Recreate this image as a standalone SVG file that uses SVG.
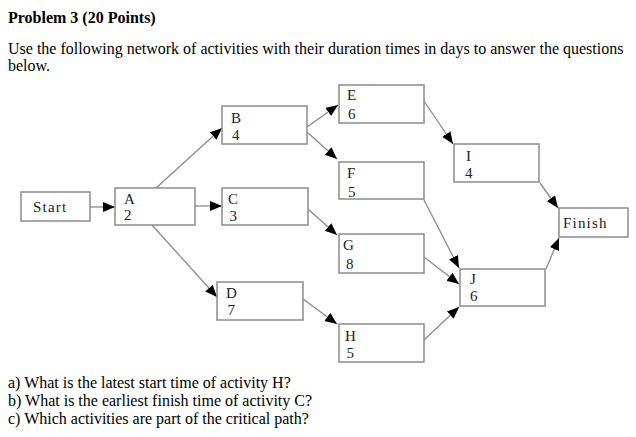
<svg xmlns="http://www.w3.org/2000/svg" width="636" height="437" viewBox="0 0 636 437">
<defs>
<marker id="ah" markerUnits="userSpaceOnUse" markerWidth="13" markerHeight="11" refX="12" refY="5" orient="auto">
<path d="M0,0 L12,5 L0,10 z" fill="#000"/>
</marker>
<style>
.t{font-family:"Liberation Serif","Times New Roman",serif;font-size:16px;fill:#000}
.b{font-weight:bold}
.box{fill:#fff;stroke:#8c8c8c;stroke-width:1.5}
.n{font-family:"Liberation Serif","Times New Roman",serif;font-size:15px;fill:#222}
.ls{letter-spacing:1.2px}
.c line{stroke:#8a8a8a;stroke-width:1.3;marker-end:url(#ah)}
</style>
</defs>
<rect width="636" height="437" fill="#fff"/>
<text class="t b" x="8" y="23">Problem 3 (20 Points)</text>
<text class="t" x="8" y="54">Use the following network of activities with their duration times in days to answer the questions</text>
<text class="t" x="8" y="71">below.</text>

<g class="c" id="connectors">
<line x1="90" y1="207" x2="115" y2="207"/>
<line x1="195" y1="206" x2="222" y2="206"/>
<line x1="156" y1="188" x2="222" y2="128"/>
<line x1="152" y1="225" x2="217" y2="297"/>
<line x1="307" y1="127" x2="338" y2="105"/>
<line x1="307" y1="132" x2="337" y2="159"/>
<line x1="424" y1="101" x2="453" y2="144"/>
<line x1="540" y1="183" x2="558" y2="208"/>
<line x1="308" y1="209" x2="337" y2="235"/>
<line x1="424" y1="200" x2="459" y2="268"/>
<line x1="424" y1="257" x2="459" y2="284"/>
<line x1="424" y1="340" x2="459" y2="307"/>
<line x1="303" y1="299" x2="337" y2="324"/>
<line x1="546" y1="269" x2="559" y2="238"/>
</g>

<g id="start"><rect class="box" x="21" y="192" width="69" height="29"/><text class="n ls" x="33" y="212">Start</text></g>
<g id="A"><rect class="box" x="115" y="188" width="80" height="37"/><text class="n" x="124" y="204">A</text><text class="n" x="124" y="220">2</text></g>
<g id="B"><rect class="box" x="222" y="106" width="85" height="38"/><text class="n" x="231" y="123">B</text><text class="n" x="232" y="139.5">4</text></g>
<g id="C"><rect class="box" x="222" y="188" width="86" height="37"/><text class="n" x="228" y="204">C</text><text class="n" x="229.5" y="221">3</text></g>
<g id="D"><rect class="box" x="217" y="282" width="86" height="38"/><text class="n" x="226" y="298">D</text><text class="n" x="227.5" y="315">7</text></g>
<g id="E"><rect class="box" x="339" y="85" width="85" height="38"/><text class="n" x="347" y="100">E</text><text class="n" x="348" y="119">6</text></g>
<g id="F"><rect class="box" x="339" y="162" width="85" height="37"/><text class="n" x="347" y="177.5">F</text><text class="n" x="348" y="196.5">5</text></g>
<g id="G"><rect class="box" x="339" y="234" width="85" height="39"/><text class="n" x="343" y="250">G</text><text class="n" x="346" y="269">8</text></g>
<g id="H"><rect class="box" x="339" y="324" width="85" height="38"/><text class="n" x="345" y="340.5">H</text><text class="n" x="346.5" y="358">5</text></g>
<g id="I"><rect class="box" x="454" y="144" width="85" height="38"/><text class="n" x="466" y="161">I</text><text class="n" x="465" y="177.5">4</text></g>
<g id="J"><rect class="box" x="460" y="269" width="85" height="37"/><text class="n" x="470" y="284">J</text><text class="n" x="470" y="301">6</text></g>
<g id="finish"><rect class="box" x="559" y="208" width="69" height="29"/><text class="n ls" x="563" y="228">Finish</text></g>

<text class="t" x="8" y="388">a) What is the latest start time of activity H?</text>
<text class="t" x="8" y="406">b) What is the earliest finish time of activity C?</text>
<text class="t" x="8" y="424">c) Which activities are part of the critical path?</text>
</svg>
